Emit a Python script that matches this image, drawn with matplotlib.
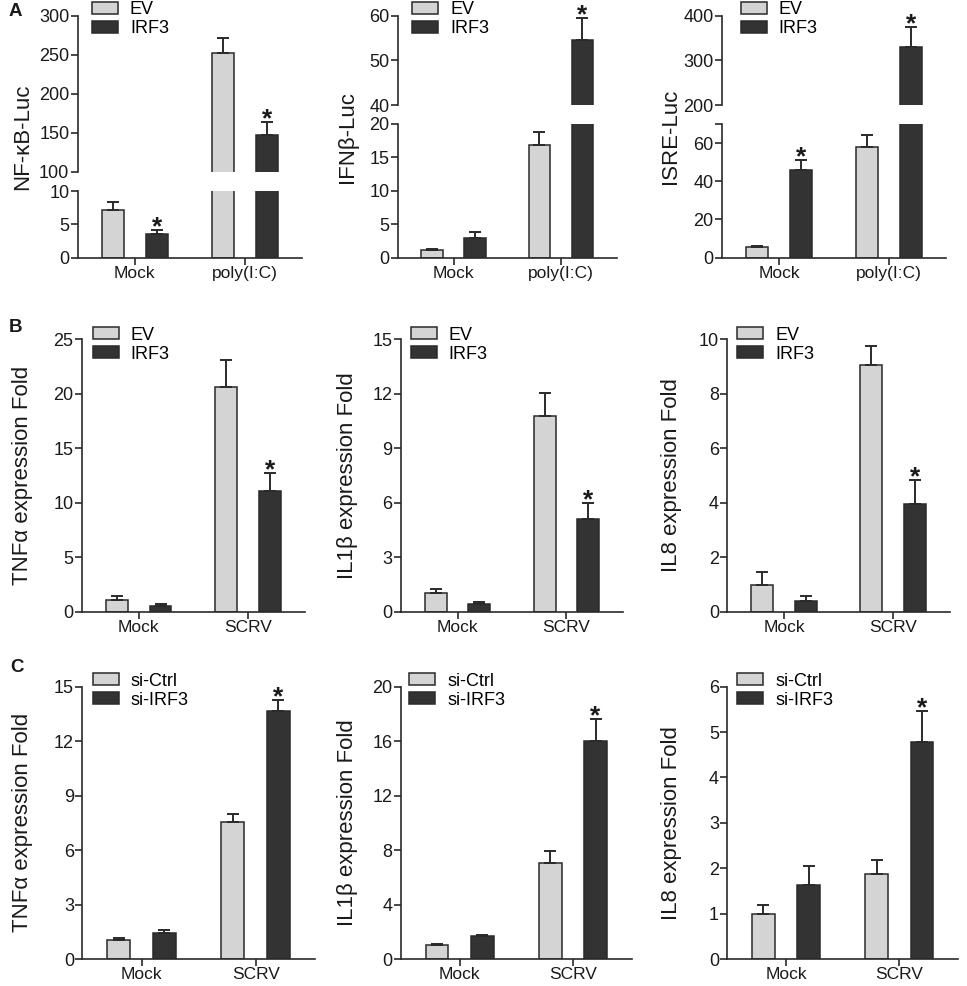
import matplotlib
matplotlib.use('Agg')
import matplotlib.pyplot as plt
import numpy as np

plt.rcParams['font.family'] = ['Liberation Sans', 'DejaVu Sans']

# data
groups_a = ['Mock', 'poly(I:C)']
groups_bc = ['Mock', 'SCRV']
legend_ab = ['EV', 'IRF3']
legend_c = ['si-Ctrl', 'si-IRF3']

# row A, luciferase reporters
nfkb_ev = [7.2, 252]
nfkb_ev_err = [1.1, 20]
nfkb_irf3 = [3.5, 147]
nfkb_irf3_err = [0.6, 17]
ifnb_ev = [1.1, 16.9]
ifnb_ev_err = [0.15, 1.9]
ifnb_irf3 = [2.9, 54.6]
ifnb_irf3_err = [1.0, 4.9]
isre_ev = [5.7, 58]
isre_ev_err = [0.4, 6.5]
isre_irf3 = [46, 331]
isre_irf3_err = [5, 43]

# row B, overexpression
tnf_ev = [1.05, 20.6]
tnf_ev_err = [0.35, 2.5]
tnf_irf3 = [0.52, 11.1]
tnf_irf3_err = [0.22, 1.6]
il1b_ev = [1.01, 10.8]
il1b_ev_err = [0.24, 1.27]
il1b_irf3 = [0.40, 5.12]
il1b_irf3_err = [0.15, 0.85]
il8_ev = [0.98, 9.04]
il8_ev_err = [0.46, 0.70]
il8_irf3 = [0.39, 3.96]
il8_irf3_err = [0.20, 0.86]

# row C, knockdown
tnf_ctrl = [1.03, 7.56]
tnf_ctrl_err = [0.11, 0.41]
tnf_si = [1.45, 13.66]
tnf_si_err = [0.15, 0.62]
il1b_ctrl = [1.05, 7.03]
il1b_ctrl_err = [0.03, 0.91]
il1b_si = [1.68, 16.02]
il1b_si_err = [0.10, 1.61]
il8_ctrl = [1.0, 1.87]
il8_ctrl_err = [0.20, 0.32]
il8_si = [1.64, 4.78]
il8_si_err = [0.40, 0.69]

W, H = 967, 986
LIGHT = '#d4d4d4'
DARK = '#333333'
EDGE = '#2a2a2a'
TXT = '#1a1a1a'

fig = plt.figure(figsize=(W / 100, H / 100), dpi=100)


def rect(x0, x1, ytop, ybot):
    return [x0 / W, 1 - ybot / H, (x1 - x0) / W, (ybot - ytop) / H]


def style(ax, bottom=True):
    ax.spines['right'].set_visible(False)
    ax.spines['top'].set_visible(False)
    for s in ax.spines.values():
        s.set_linewidth(1.2)
        s.set_color(EDGE)
    ax.tick_params(direction='out', length=5, width=1.2, color=EDGE,
                   labelsize=13, labelcolor=TXT, pad=1)
    ax.set_xlim(-0.52, 1.52)
    if not bottom:
        ax.spines['bottom'].set_visible(False)
        ax.tick_params(axis='x', bottom=False, labelbottom=False)


def bars(ax, a, a_err, b, b_err, stars, labels):
    x = np.arange(2)
    for off, v, e, c, lab in [(-0.2, a, a_err, LIGHT, labels[0]),
                              (0.2, b, b_err, DARK, labels[1])]:
        ax.bar(x + off, v, 0.2, color=c, edgecolor=EDGE, linewidth=1.1,
               zorder=2, label=lab)
        ax.errorbar(x + off, v, yerr=[np.zeros(2), e], fmt='none',
                    ecolor=EDGE, elinewidth=1.4, capsize=4.5, capthick=1.4,
                    zorder=3)
    lo, hi = ax.get_ylim()
    for gi in stars:
        top = b[gi] + b_err[gi]
        if lo <= top <= hi:
            ax.annotate('*', xy=(gi + 0.2, top), xytext=(0, 2),
                        textcoords='offset points', ha='center', va='center',
                        fontsize=19, fontweight='bold', color=TXT,
                        annotation_clip=False)


def legend(ax, x_px, y_px, labels):
    ax.legend(loc='upper left', bbox_to_anchor=(x_px / W, 1 - y_px / H),
              bbox_transform=fig.transFigure, frameon=False, fontsize=13,
              handlelength=1.45, handleheight=0.65, handletextpad=0.65,
              labelspacing=0.12, borderpad=0, borderaxespad=0)


def ylab(x_px, ytop, ybot, text):
    fig.text(x_px / W, 1 - (ytop + ybot) / 2 / H, text, rotation=90,
             ha='center', va='center', fontsize=16, color=TXT)


# ---------- row A: broken axes ----------
row_a = [
    # x0, x1, upper bottom px, lower top px, upper lim, lower lim, ticks
    (77.7, 302, 171.7, 191, (100, 300), (0, 10), [100, 150, 200, 250, 300],
     [0, 5, 10], nfkb_ev, nfkb_ev_err, nfkb_irf3, nfkb_irf3_err, [0, 1],
     'NF-κB-Luc', 23, 92),
    (397.7, 616.7, 105, 124, (40, 60), (0, 20), [40, 50, 60],
     [0, 5, 10, 15, 20], ifnb_ev, ifnb_ev_err, ifnb_irf3, ifnb_irf3_err, [1],
     'IFNβ-Luc', 347.5, 412.3),
    (722, 946, 105, 124, (200, 400), (0, 70), [200, 300, 400],
     [0, 20, 40, 60, 70], isre_ev, isre_ev_err, isre_irf3, isre_irf3_err,
     [0, 1], 'ISRE-Luc', 670, 740.7),
]
for (x0, x1, ub, lt, ulim, llim, uticks, lticks, a, ae, b, be, st,
     name, lx, legx) in row_a:
    up = fig.add_axes(rect(x0, x1, 15.7, ub))
    low = fig.add_axes(rect(x0, x1, lt, 257.7))
    up.set_ylim(*ulim)
    low.set_ylim(*llim)
    style(up, bottom=False)
    style(low)
    up.set_yticks(uticks)
    low.set_yticks(lticks)
    low.set_yticklabels([str(t) if t != 70 else '' for t in lticks])
    bars(up, a, ae, b, be, st, legend_ab)
    bars(low, a, ae, b, be, st, legend_ab)
    low.set_xticks([0, 1])
    low.set_xticklabels(groups_a, fontsize=12.5)
    legend(up, legx, 1, legend_ab)
    ylab(lx, 15.7, 257.7, name)

# ---------- rows B and C ----------
rows_bc = [
    (81.7, 305, 339.3, 611.7, 25, [0, 5, 10, 15, 20, 25], tnf_ev, tnf_ev_err,
     tnf_irf3, tnf_irf3_err, 'TNFα expression Fold', 23, 92.7, 326.5,
     legend_ab),
    (401, 623, 339.3, 611.7, 15, [0, 3, 6, 9, 12, 15], il1b_ev, il1b_ev_err,
     il1b_irf3, il1b_irf3_err, 'IL1β expression Fold', 348, 410.7, 326.5,
     legend_ab),
    (727.3, 950, 339.3, 611.7, 10, [0, 2, 4, 6, 8, 10], il8_ev, il8_ev_err,
     il8_irf3, il8_irf3_err, 'IL8 expression Fold', 671, 737.3, 326.5,
     legend_ab),
    (82.3, 315, 686.7, 959, 15, [0, 3, 6, 9, 12, 15], tnf_ctrl, tnf_ctrl_err,
     tnf_si, tnf_si_err, 'TNFα expression Fold', 23, 92.7, 672.5, legend_c),
    (401, 631.7, 686.7, 959, 20, [0, 4, 8, 12, 16, 20], il1b_ctrl,
     il1b_ctrl_err, il1b_si, il1b_si_err, 'IL1β expression Fold', 348, 409.3,
     672.5, legend_c),
    (727.3, 958, 686.7, 959, 6, [0, 1, 2, 3, 4, 5, 6], il8_ctrl, il8_ctrl_err,
     il8_si, il8_si_err, 'IL8 expression Fold', 671, 737.3, 672.5, legend_c),
]
for (x0, x1, yt, yb, ymax, ticks, a, ae, b, be, name, lx, legx, legy,
     labs) in rows_bc:
    ax = fig.add_axes(rect(x0, x1, yt, yb))
    ax.set_ylim(0, ymax)
    style(ax)
    ax.set_yticks(ticks)
    bars(ax, a, ae, b, be, [1], labs)
    ax.set_xticks([0, 1])
    ax.set_xticklabels(groups_bc, fontsize=12.5)
    legend(ax, legx, legy, labs)
    ylab(lx, yt, yb, name)

# panel letters
for letter, x, y in [('A', 9, 12), ('B', 9, 327), ('C', 10, 668)]:
    fig.text(x / W, 1 - y / H, letter, fontsize=13.5, fontweight='bold',
             ha='left', va='center', color=TXT)

fig.savefig('out.png', dpi=100)
